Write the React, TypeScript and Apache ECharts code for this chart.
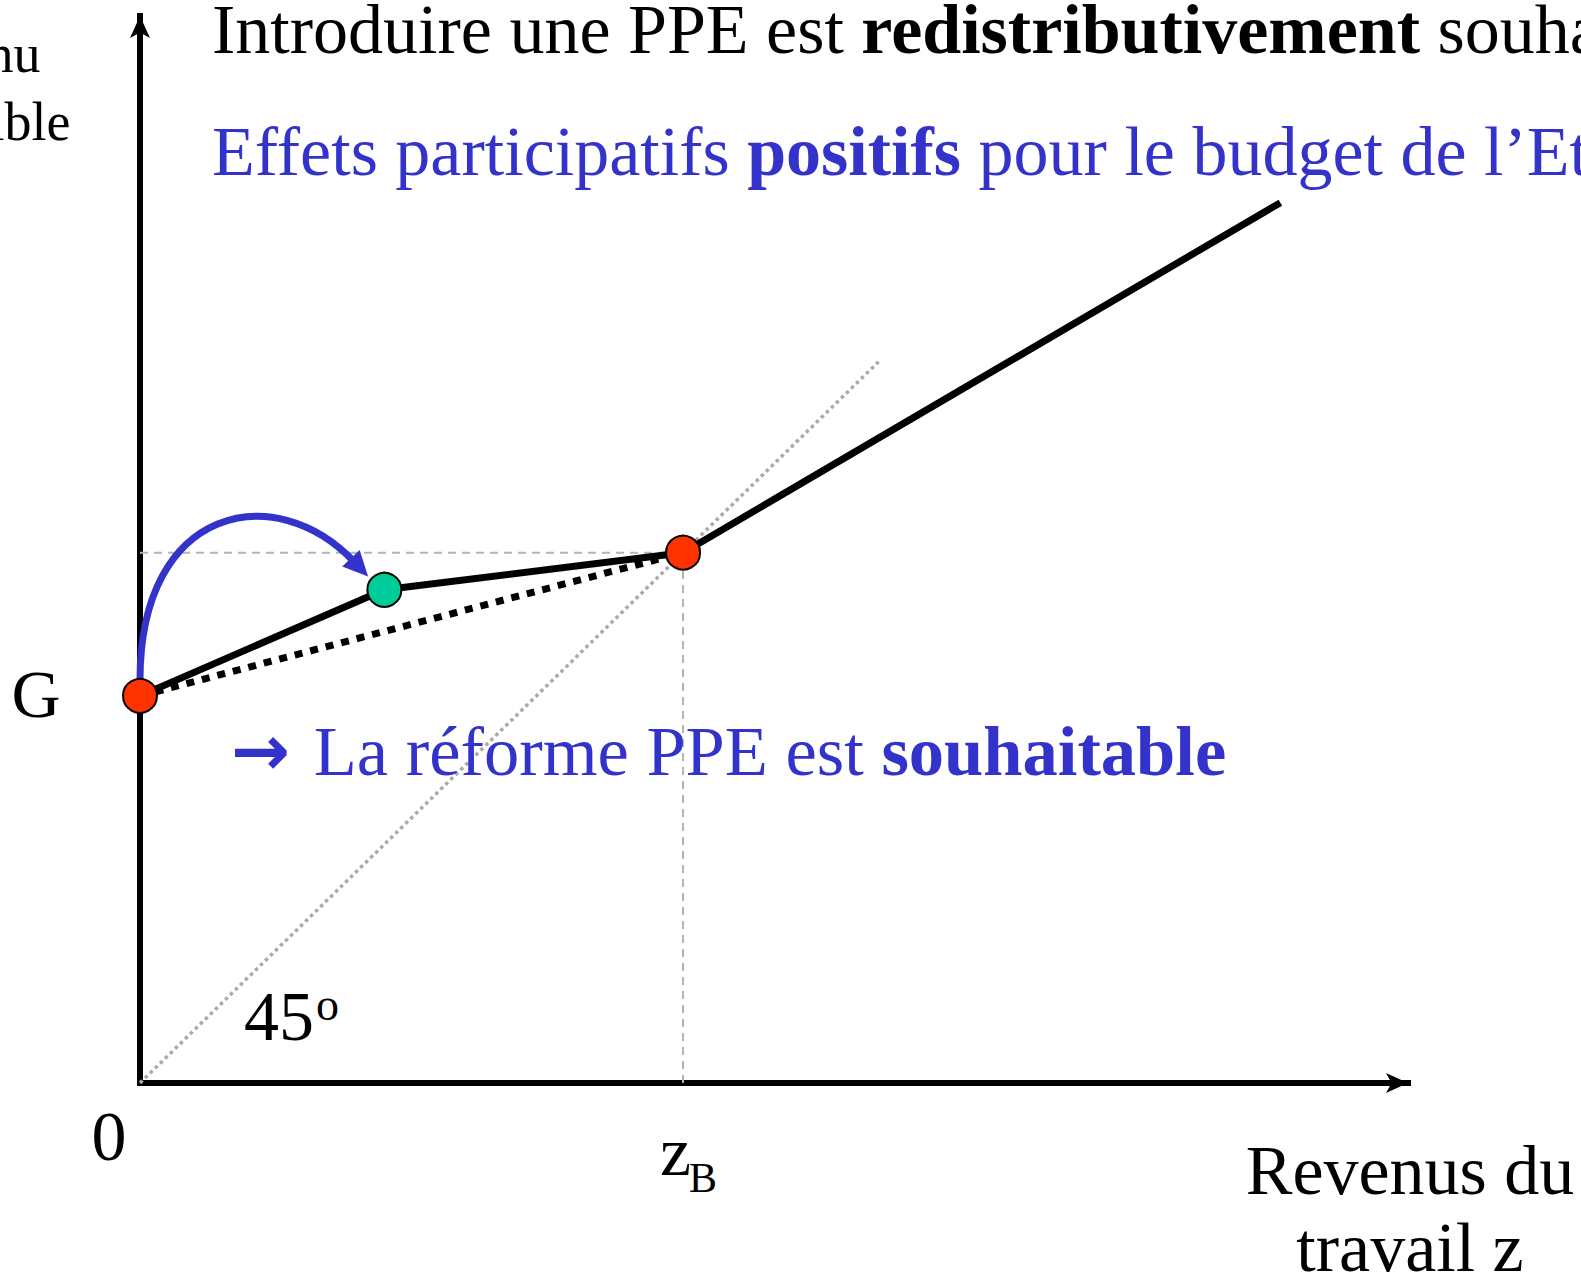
import React, { useEffect, useRef } from "react";
import * as echarts from "echarts";

// ---- data (x: labour income z, y: disposable income), zB = 100 ----
const xMax = 233.5;
const yMax = 201;
const budgetLine = [[0, 73], [45, 93], [100, 100], [210, 166]];
const oldBudgetLine = [[0, 73], [100, 100]];
const diagonal45 = [[0, 0], [136, 136]];
const zBLevelLine = [[0, 100], [100, 100]];
const zBDropLine = [[100, 0], [100, 100]];
const redPoints = [[0, 73], [100, 100]];
const greenPoints = [[45, 93]];
const arcPoints = [[0, 76], [0, 109], [25, 114], [42, 95.5]];

// ---- texts ----
const titleText = "Introduire une PPE est {b|redistributivement} souhaitable";
const subtitleText = "Effets participatifs {b|positifs} pour le budget de l\u2019Etat";
const conclusionText = "{a|\u2192} La r\u00e9forme PPE est {b|souhaitable}";
const yAxisNameLines = ["Revenu", "disponible"];
const xAxisNameLines = ["Revenus du", "travail z"];
const gLabel = "G";
const originLabel = "0";
const zLabel = "z";
const zSub = "B";
const angleLabel = "45";
const angleSup = "o";

const BLUE = "#3333cc";
const RED = "#ff3300";
const GREEN = "#00cc99";
const GRAY = "#b4b4b4";
const FONT = "'Liberation Serif', 'Times New Roman', serif";

const mid = (baseline: number, fs: number) => baseline - 0.3375 * fs;

function txt(text: string, x: number, baseline: number, fs: number, color: string, align: string = "left", rich?: any) {
  return {
    type: "text",
    x,
    y: mid(baseline, fs),
    silent: true,
    z: 10,
    style: {
      text,
      x: 0,
      y: 0,
      fill: color,
      fontSize: fs,
      fontFamily: FONT,
      lineHeight: Math.round(fs * 0.8),
      align,
      verticalAlign: "middle",
      rich,
    },
  };
}

export default function App() {
  const ref = useRef<HTMLDivElement>(null);
  useEffect(() => {
    if (!ref.current) return;
    const chart = echarts.init(ref.current, undefined, { renderer: "svg" });
    const boldRich = (color: string, fs: number) => ({
      b: { fontWeight: "bold", fontSize: fs, fontFamily: FONT, fill: color, lineHeight: Math.round(fs * 0.8) },
      a: {
        fontWeight: "bold",
        fontSize: fs,
        fontFamily: "'DejaVu Sans', sans-serif",
        fill: color,
        lineHeight: Math.round(fs * 0.8),
        padding: [0, 6, 0, 0],
      },
    });
    const axisCommon = {
      type: "value",
      min: 0,
      axisLine: {
        show: true,
        symbol: ["none", "arrow"],
        symbolSize: [15, 22],
        lineStyle: { color: "#000", width: 6, cap: "square" },
      },
      axisTick: { show: false },
      axisLabel: { show: false },
      splitLine: { show: false },
    };
    const option: any = {
      animation: false,
      backgroundColor: "#ffffff",
      grid: { left: 140, right: 173, top: 16, bottom: 199, containLabel: false },
      xAxis: { ...axisCommon, max: xMax },
      yAxis: { ...axisCommon, max: yMax + 0.2 },
      series: [
        {
          type: "line",
          data: zBLevelLine,
          symbol: "none",
          silent: true,
          z: 1,
          lineStyle: { color: GRAY, width: 2, type: [8, 6] },
        },
        {
          type: "line",
          data: zBDropLine,
          symbol: "none",
          silent: true,
          z: 1,
          lineStyle: { color: GRAY, width: 2, type: [8, 6] },
        },
        {
          type: "line",
          data: diagonal45,
          symbol: "none",
          silent: true,
          z: 1,
          lineStyle: { color: "#aaaaaa", width: 3.5, type: [3.5, 3.5] },
        },
        {
          type: "line",
          data: oldBudgetLine,
          symbol: "none",
          silent: true,
          z: 2,
          lineStyle: { color: "#000", width: 7, type: [8, 8], cap: "butt" },
        },
        {
          type: "line",
          data: budgetLine,
          symbol: "none",
          silent: true,
          z: 3,
          lineStyle: { color: "#000", width: 7 },
        },
        {
          type: "custom",
          silent: true,
          z: 4,
          clip: false,
          data: [[0, 0]],
          renderItem: (_params: any, api: any) => {
            const p = arcPoints.map((pt) => api.coord(pt));
            const [p0, c1, c2, p3] = p;
            const dx = p3[0] - c2[0];
            const dy = p3[1] - c2[1];
            const len = Math.hypot(dx, dy);
            const ux = dx / len;
            const uy = dy / len;
            const L = 25;
            const W = 12;
            const sh = L * 0.8;
            const baseX = p3[0] - ux * L;
            const baseY = p3[1] - uy * L;
            const nx = -uy;
            const ny = ux;
            return {
              type: "group",
              children: [
                {
                  type: "bezierCurve",
                  shape: {
                    x1: p0[0],
                    y1: p0[1],
                    cpx1: c1[0],
                    cpy1: c1[1],
                    cpx2: c2[0],
                    cpy2: c2[1],
                    x2: p3[0] - ux * sh,
                    y2: p3[1] - uy * sh,
                  },
                  style: { stroke: BLUE, lineWidth: 7, fill: "none" },
                },
                {
                  type: "polygon",
                  shape: {
                    points: [
                      [p3[0], p3[1]],
                      [baseX + nx * W, baseY + ny * W],
                      [baseX - nx * W, baseY - ny * W],
                    ],
                  },
                  style: { fill: BLUE, stroke: "none" },
                },
              ],
            };
          },
        },
        {
          type: "scatter",
          data: redPoints,
          symbol: "circle",
          symbolSize: 34,
          silent: true,
          z: 5,
          itemStyle: { color: RED, borderColor: "#000", borderWidth: 2, opacity: 1 },
        },
        {
          type: "scatter",
          data: greenPoints,
          symbol: "circle",
          symbolSize: 34,
          silent: true,
          z: 5,
          itemStyle: { color: GREEN, borderColor: "#000", borderWidth: 2, opacity: 1 },
        },
      ],
      graphic: [
        txt(titleText, 212, 53, 70, "#000", "left", boldRich("#000", 70)),
        txt(subtitleText, 212, 175, 70, BLUE, "left", boldRich(BLUE, 70)),
        txt(conclusionText, 231, 775, 70.5, BLUE, "left", boldRich(BLUE, 70.5)),
        txt(yAxisNameLines[0], -42, 72, 54, "#000", "center"),
        txt(yAxisNameLines[1], -42, 140, 54, "#000", "center"),
        txt(xAxisNameLines[0], 1410, 1194, 70, "#000", "center"),
        txt(xAxisNameLines[1], 1410, 1271, 70, "#000", "center"),
        txt(gLabel, 36, 717, 68, "#000", "center"),
        txt(originLabel, 109, 1160, 70, "#000", "center"),
        txt(zLabel, 660, 1175, 70, "#000", "left"),
        txt(zSub, 689, 1192, 42, "#000", "left"),
        txt(angleLabel, 244, 1040, 70, "#000", "left"),
        txt(angleSup, 316, 1020, 46, "#000", "left"),
      ],
    };
    chart.setOption(option);
    return () => {
      chart.dispose();
    };
  }, []);
  return (
    <div
      ref={ref}
      style={{ position: "absolute", left: 0, top: 0, width: 1581, height: 1282, background: "#fff" }}
    />
  );
}
